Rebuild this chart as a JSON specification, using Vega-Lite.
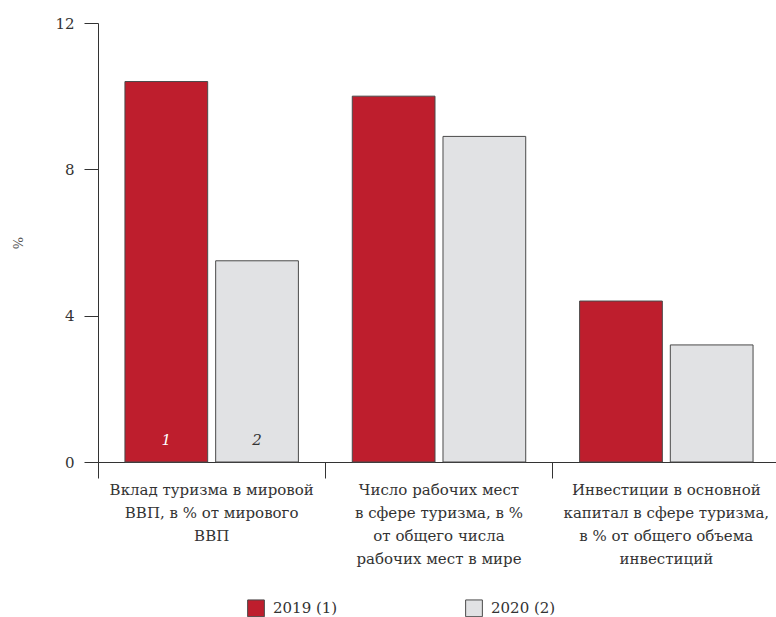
{
  "$schema": "https://vega.github.io/schema/vega-lite/v6.json",
  "autosize": "none",
  "padding": {"left": 98, "top": 23, "right": 0, "bottom": 155},
  "width": 682,
  "height": 439,
  "config": {
    "view": {"stroke": null},
    "font": "DejaVu Serif",
    "axis": {"labelColor": "#333333", "titleColor": "#555555", "domainColor": "#333333", "tickColor": "#333333", "grid": false}
  },
  "data": {
    "values": [
      {"category": "Вклад туризма в мировой\nВВП, в % от мирового\nВВП", "year": "2019 (1)", "value": 10.4, "num": "1"},
      {"category": "Вклад туризма в мировой\nВВП, в % от мирового\nВВП", "year": "2020 (2)", "value": 5.5, "num": "2"},
      {"category": "Число рабочих мест\nв сфере туризма, в %\nот общего числа\nрабочих мест в мире", "year": "2019 (1)", "value": 10.0, "num": ""},
      {"category": "Число рабочих мест\nв сфере туризма, в %\nот общего числа\nрабочих мест в мире", "year": "2020 (2)", "value": 8.9, "num": ""},
      {"category": "Инвестиции в основной\nкапитал в сфере туризма,\nв % от общего объема\nинвестиций", "year": "2019 (1)", "value": 4.4, "num": ""},
      {"category": "Инвестиции в основной\nкапитал в сфере туризма,\nв % от общего объема\nинвестиций", "year": "2020 (2)", "value": 3.2, "num": ""}
    ]
  },
  "encoding": {
    "x": {
      "field": "category",
      "type": "nominal",
      "sort": null,
      "scale": {"paddingInner": 0, "paddingOuter": 0},
      "axis": {
        "title": null,
        "labelAngle": 0,
        "labelExpr": "split(datum.label, '\\n')",
        "labelFont": "DejaVu Serif",
        "labelFontSize": 15,
        "labelLineHeight": 23,
        "labelBaseline": "top",
        "labelPadding": 4,
        "labelLimit": 300,
        "tickSize": 16,
        "bandPosition": 0,
        "domainWidth": 1,
        "tickWidth": 1
      }
    },
    "xOffset": {"field": "year", "scale": {"paddingInner": 0.088, "paddingOuter": 0.297}}
  },
  "layer": [
    {
      "mark": {"type": "bar", "stroke": "#4a4a4a", "strokeWidth": 1},
      "encoding": {
        "y": {
          "field": "value",
          "type": "quantitative",
          "scale": {"domain": [0, 12], "nice": false},
          "axis": {
            "title": "%",
            "titleAngle": -90,
            "titleFont": "DejaVu Serif",
            "titleFontSize": 13,
            "titleFontWeight": "normal",
            "titlePadding": 29,
            "values": [0, 4, 8, 12],
            "labelFont": "DejaVu Serif",
            "labelFontSize": 15,
            "tickSize": 14,
            "labelPadding": 10
          }
        },
        "color": {
          "field": "year",
          "type": "nominal",
          "scale": {"domain": ["2019 (1)", "2020 (2)"], "range": ["#be1e2d", "#e1e2e4"]},
          "legend": {
            "title": null,
            "orient": "none",
            "direction": "horizontal",
            "legendX": 149,
            "legendY": 576,
            "symbolType": "square",
            "symbolSize": 280,
            "symbolStrokeColor": "#4a4a4a",
            "symbolStrokeWidth": 1,
            "symbolOffset": 0,
            "labelFont": "DejaVu Serif",
            "labelFontSize": 15,
            "labelColor": "#333333",
            "labelOffset": 8,
            "columnPadding": 125
          }
        }
      }
    },
    {
      "mark": {"type": "text", "font": "DejaVu Serif", "fontStyle": "italic", "fontSize": 15, "baseline": "bottom", "dy": -14},
      "encoding": {
        "y": {"datum": 0},
        "text": {"field": "num"},
        "color": {"field": "year", "type": "nominal", "scale": {"domain": ["2019 (1)", "2020 (2)"], "range": ["#ffffff", "#333333"]}, "legend": null}
      }
    }
  ],
  "resolve": {"scale": {"color": "independent"}}
}
